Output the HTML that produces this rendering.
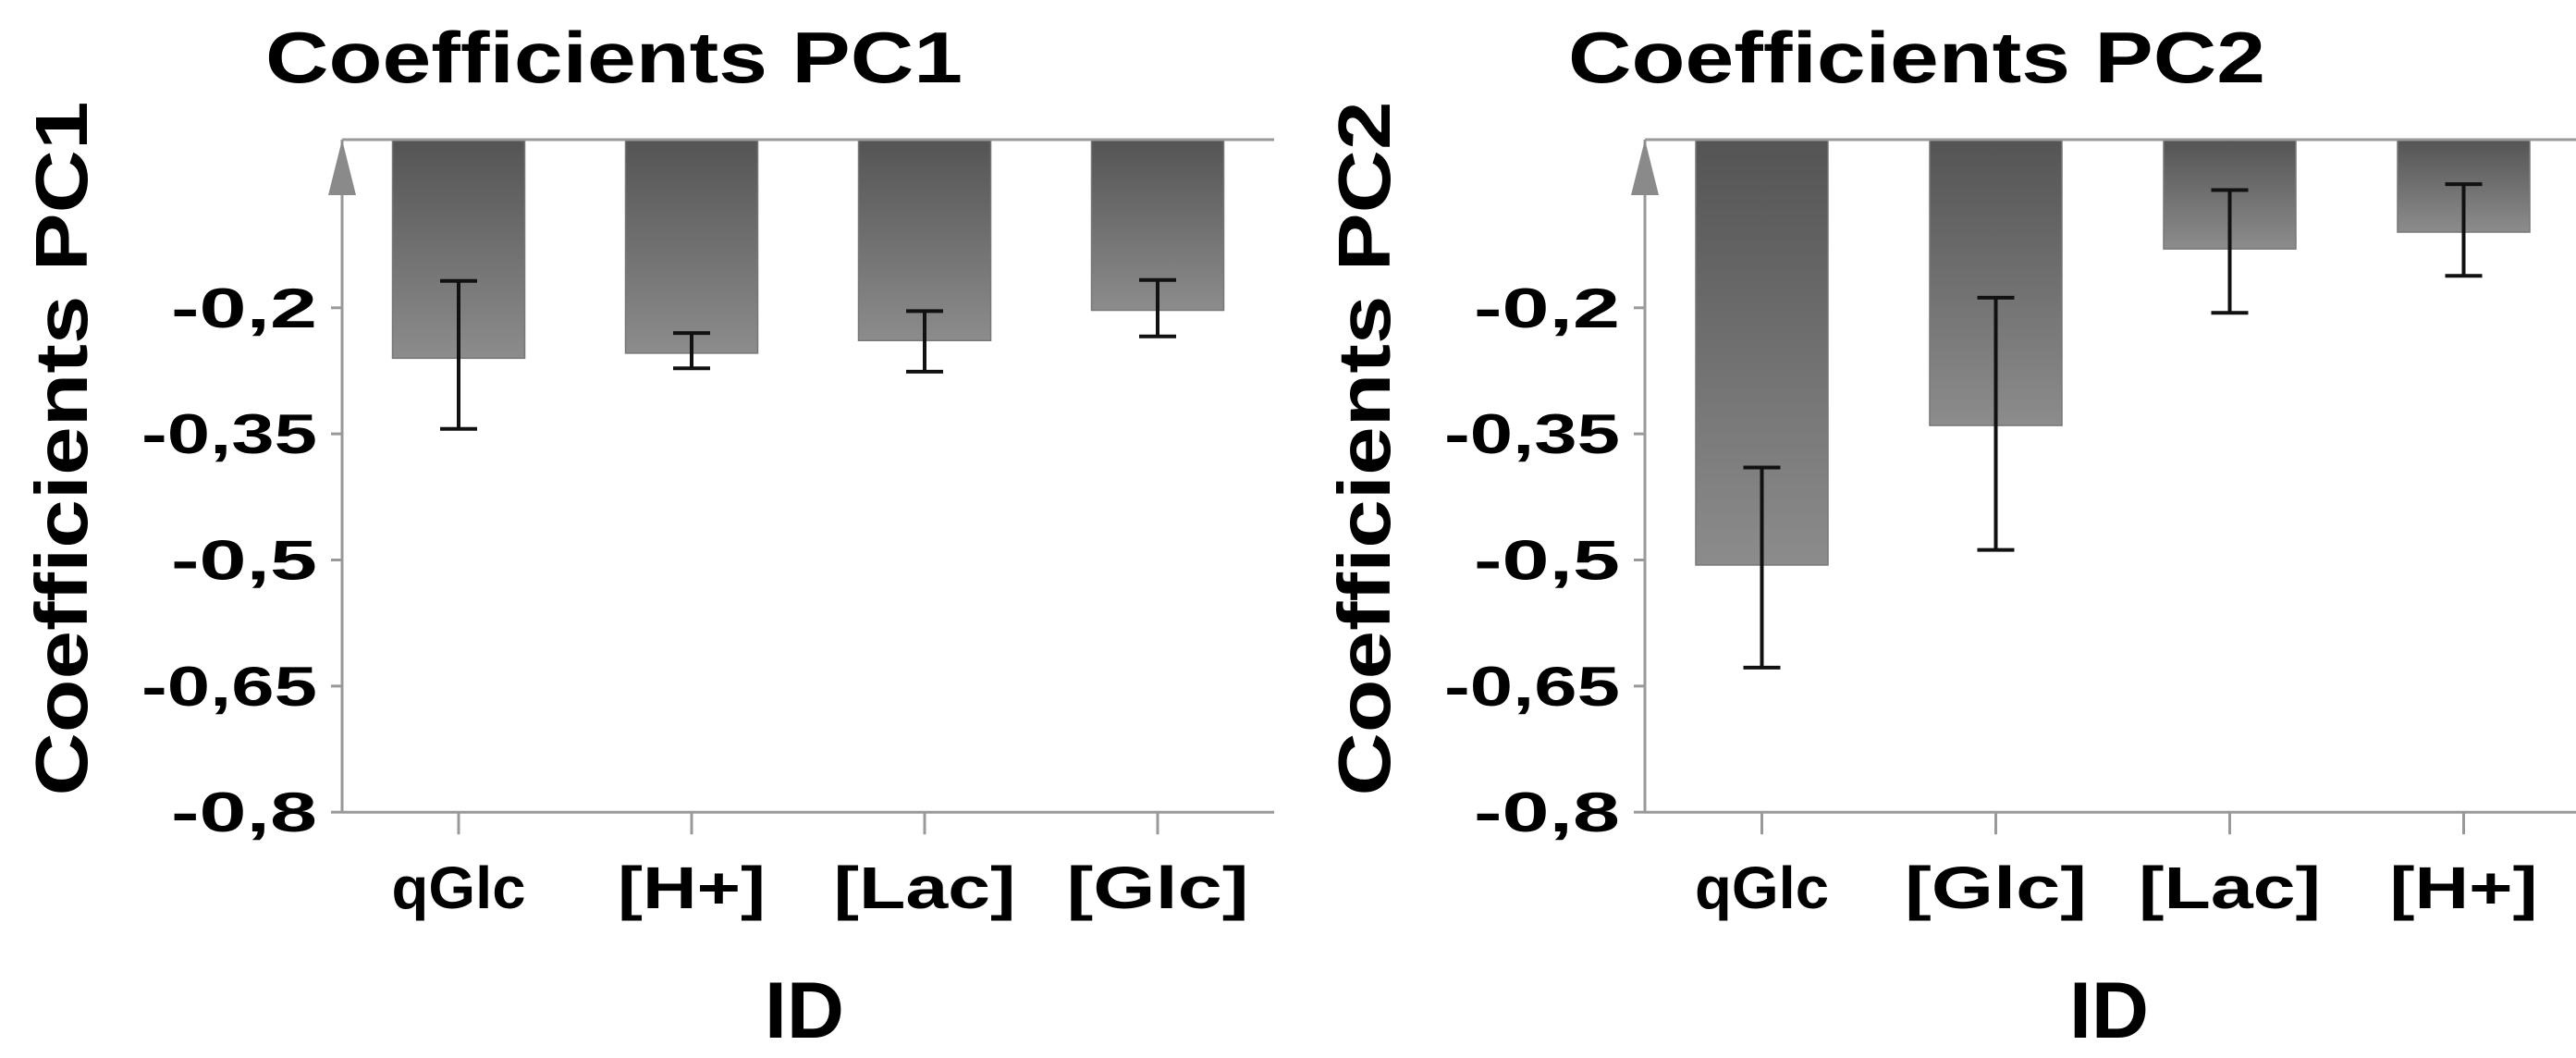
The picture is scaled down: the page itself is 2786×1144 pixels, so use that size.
<!DOCTYPE html>
<html><head><meta charset="utf-8"><style>
html,body{margin:0;padding:0;background:#fff;}
svg{display:block;font-family:"Liberation Sans","DejaVu Sans",sans-serif;font-weight:bold;}
</style></head><body>
<svg id="chart" width="2786" height="1144" viewBox="0 0 2786 1144" xmlns="http://www.w3.org/2000/svg">
<defs><linearGradient id="barGrad" x1="0" y1="0" x2="0" y2="1"><stop offset="0" stop-color="#545454"/><stop offset="1" stop-color="#8c8c8c"/></linearGradient></defs>
</svg>
<script>
const pc1Categories = ["qGlc","[H+]","[Lac]","[Glc]"];
const pc1Values = [-0.26,-0.254,-0.239,-0.203];
const pc1ErrLow = [-0.344,-0.272,-0.276,-0.234];
const pc1ErrHigh = [-0.168,-0.23,-0.204,-0.167];
const pc2Categories = ["qGlc","[Glc]","[Lac]","[H+]"];
const pc2Values = [-0.506,-0.34,-0.13,-0.11];
const pc2ErrLow = [-0.628,-0.488,-0.206,-0.162];
const pc2ErrHigh = [-0.39,-0.188,-0.06,-0.053];
const tickValues = [-0.2,-0.35,-0.5,-0.65,-0.8];
const tickLabels = ["-0,2","-0,35","-0,5","-0,65","-0,8"];

const svg = document.getElementById('chart');
const NS = 'http://www.w3.org/2000/svg';
function mk(tag, attrs, parent){
  const e = document.createElementNS(NS, tag);
  for (const k in attrs) e.setAttribute(k, attrs[k]);
  (parent||svg).appendChild(e);
  return e;
}
const Y0 = 151, K = 909;
function yScale(v){ return Y0 - v*K; }
function labelWidth(s){
  if (s === 'qGlc') return 145;
  return s.length * 37 + 12;
}

function panel(p, ax, right, cats, vals, lo, hi){
  const g = mk('g', {});
  
  
  const band = (right-ax)/4;
  const xS = i => ax + band*(i+0.5);
  const t = mk('text', {x:ax+294, y:89, 'font-size':78, 'text-anchor':'middle', fill:'#000', textLength:754, lengthAdjust:'spacingAndGlyphs'}, g);
  t.textContent = 'Coefficients PC'+p;
  
  
  const ox = ax - 370;
  const yt = mk('text', {x:0, y:0, 'font-size':80, 'text-anchor':'middle', fill:'#000', transform:`translate(${94+ox},485) rotate(-90)`, textLength:751, lengthAdjust:'spacingAndGlyphs'}, g);
  yt.textContent = 'Coefficients PC'+p;
  
  
  cats.forEach((c,i)=>{
    const bw = 143, x = xS(i)-bw/2;
    const y1 = yScale(0), y2 = yScale(vals[i]);
    const r = mk('rect', {x:x, y:y1, width:bw, height:y2-y1, fill:'url(#barGrad)', stroke:'#777', 'stroke-width':1.5}, g);
    
    
  });
  const xa = mk('line', {x1:ax, y1:yScale(0), x2:right, y2:yScale(0), stroke:'#999', 'stroke-width':3}, g);
  
  
  const ya = mk('line', {x1:ax, y1:yScale(0), x2:ax, y2:yScale(-0.8), stroke:'#999', 'stroke-width':3}, g);
  
  
  const ba = mk('line', {x1:ax, y1:yScale(-0.8), x2:right, y2:yScale(-0.8), stroke:'#999', 'stroke-width':3}, g);
  
  
  const ar = mk('polygon', {points:`${ax-15},${yScale(0)+60} ${ax+15},${yScale(0)+60} ${ax},${yScale(0)}`, fill:'#8a8a8a'}, g);
  
  
  tickValues.forEach((v,i)=>{
    const tk = mk('line', {x1:ax-12, y1:yScale(v), x2:ax, y2:yScale(v), stroke:'#999', 'stroke-width':3}, g);
    
    
    const s = tickLabels[i];
    const tl = mk('text', {x:ax-27, y:yScale(v)+21, 'font-size':60, 'text-anchor':'end', fill:'#000', textLength:(s.length===4?158:190), lengthAdjust:'spacingAndGlyphs'}, g);
    tl.textContent = s;
    
    
  });
  cats.forEach((c,i)=>{
    const tk = mk('line', {x1:xS(i), y1:yScale(-0.8), x2:xS(i), y2:yScale(-0.8)+24, stroke:'#999', 'stroke-width':3}, g);
    
    
    const tl = mk('text', {x:xS(i), y:982, 'font-size':64, 'text-anchor':'middle', fill:'#000', textLength:labelWidth(c), lengthAdjust:'spacingAndGlyphs'}, g);
    tl.textContent = c;
    
    
  });
  cats.forEach((c,i)=>{
    const x = xS(i), a = yScale(hi[i]), b = yScale(lo[i]);
    const eg = mk('g', {stroke:'#111', 'stroke-width':4}, g);
    
    
    mk('line', {x1:x, y1:a, x2:x, y2:b}, eg);
    mk('line', {x1:x-20, y1:a, x2:x+20, y2:a}, eg);
    mk('line', {x1:x-20, y1:b, x2:x+20, y2:b}, eg);
  });
  const xt = mk('text', {x:(ax+right)/2 - 4, y:1122, 'font-size':86, 'text-anchor':'middle', fill:'#000'}, g);
  xt.textContent = 'ID';
  
  
}
panel(1, 370, 1378, pc1Categories, pc1Values, pc1ErrLow, pc1ErrHigh);
panel(2, 1779, 2791, pc2Categories, pc2Values, pc2ErrLow, pc2ErrHigh);
</script>
</body></html>
